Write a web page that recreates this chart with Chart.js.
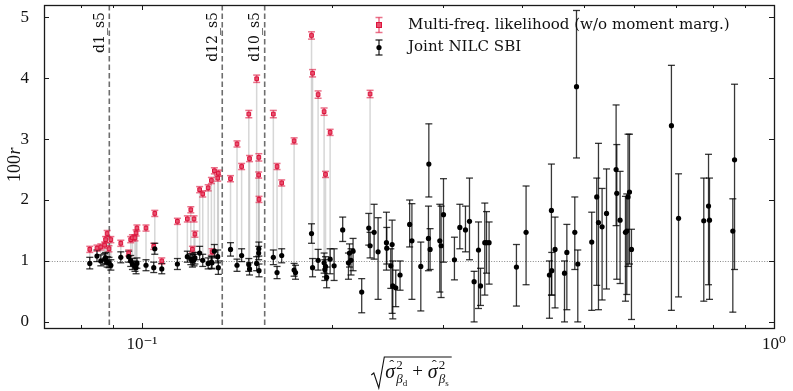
<!DOCTYPE html>
<html><head><meta charset="utf-8">
<script src="https://cdn.jsdelivr.net/npm/chart.js@4.4.1/dist/chart.umd.min.js"></script>
<style>html,body{margin:0;padding:0;background:#fff;}canvas{display:block}</style>
</head><body>
<canvas id="c" width="793" height="391"></canvas>
<script>
// ---------- data ----------
const blackX = [
 0.0827,0.0849,0.0861,0.0873,0.0876,0.0881,0.0887,0.0893,0.0926,0.0953,
 0.0960,0.0966,0.0975,0.0979,0.0982,0.1015,0.1044,0.1048,0.1075,0.1138,
 0.1180,0.1195,0.1202,0.1209,0.1213,0.1234,0.1248,0.1273,0.1288,0.1291,
 0.1302,0.1318,0.1321,0.1381,0.1414,0.1438,0.1476,0.1480,0.1519,0.1531,
 0.1530,0.1532,0.1614,0.1636,0.1664,0.1741,0.1750,0.1855,0.1862,0.1900,
 0.1942,0.1947,0.1952,0.1960,0.1985,0.2014,0.2078,0.2122,0.2130,0.2142,
 0.2158,0.2227,0.2285,0.2296,0.2330,0.2364,0.2437,0.2440,0.2476,0.2488,
 0.2494,0.2521,0.2561,0.2652,0.2674,0.2762,0.2840,0.2844,0.2857,0.2960,
 0.2974,0.3000,0.3122,0.3184,0.3250,0.3298,0.3354,0.3408,0.3433,0.3487,
 0.3509,0.3542,0.3913,0.4053,0.4413,0.4445,0.4450,0.4504,0.4662,0.4702,
 0.4840,0.4870,0.4893,0.5148,0.5243,0.5276,0.5346,0.5433,0.5626,0.5640,
 0.5708,0.5821,0.5849,0.5876,0.5907,0.5950,0.6882,0.7063,0.7743,0.7878,
 0.7906,0.8607,0.8661];
const blackY = [
 0.96,1.08,1.00,1.03,1.05,0.98,0.97,0.93,1.06,1.07,
 1.00,0.95,0.91,0.89,0.96,0.93,0.89,1.20,0.87,0.95,
 1.07,1.03,1.00,1.02,1.05,1.13,1.01,0.96,0.98,0.97,
 1.16,1.07,0.89,1.19,0.93,1.09,0.94,0.87,0.96,1.20,
 1.13,0.84,1.06,0.81,1.09,0.85,0.81,1.45,0.89,1.01,
 0.97,0.86,0.91,0.73,1.03,0.92,1.51,0.97,1.13,1.01,
 1.16,0.49,1.54,1.25,1.47,1.15,1.30,1.21,0.92,1.27,
 0.59,0.56,0.77,1.60,1.33,0.91,1.37,2.59,1.19,1.33,
 1.25,1.76,1.02,1.55,1.51,1.65,0.66,1.18,0.59,1.30,
 1.30,1.30,0.90,1.47,0.77,1.83,0.84,1.19,0.80,1.14,
 1.47,3.86,0.95,1.31,2.05,1.63,1.56,1.78,2.50,2.11,
 1.67,1.47,1.49,2.05,2.13,1.19,3.22,1.70,1.66,1.90,
 1.67,1.49,2.66];
const blackLo = [
 0.87,0.99,0.92,0.94,0.96,0.90,0.89,0.85,0.97,0.98,
 0.91,0.86,0.83,0.79,0.88,0.84,0.81,1.11,0.79,0.86,
 0.98,0.94,0.90,0.92,0.95,1.02,0.91,0.87,0.88,0.87,
 1.05,0.97,0.78,1.08,0.83,0.99,0.83,0.77,0.84,1.08,
 1.02,0.74,0.94,0.71,0.97,0.75,0.70,1.29,0.74,0.85,
 0.80,0.68,0.74,0.56,0.79,0.68,1.32,0.70,0.90,0.77,
 0.84,0.15,1.26,1.05,1.03,0.37,0.85,0.95,0.55,0.14,
 0.05,0.25,0.52,1.23,0.37,0.18,0.84,2.05,0.86,0.49,
 0.40,0.98,0.69,1.20,1.15,1.02,0.00,0.22,0.27,0.44,
 0.80,0.62,0.26,0.61,0.06,0.44,0.44,0.23,0.00,0.20,
 0.86,2.69,0.00,0.19,0.60,0.20,0.36,0.54,1.58,0.70,
 0.63,0.34,0.45,0.91,0.95,0.04,0.19,0.41,0.34,0.61,
 0.37,0.16,0.86];
const blackHi = [
 1.06,1.18,1.10,1.12,1.14,1.07,1.06,1.02,1.15,1.16,
 1.09,1.04,1.00,0.99,1.05,1.02,0.98,1.29,0.96,1.04,
 1.16,1.12,1.10,1.11,1.14,1.24,1.11,1.05,1.08,1.07,
 1.27,1.18,1.00,1.30,1.03,1.20,1.04,0.97,1.07,1.31,
 1.24,0.95,1.18,0.91,1.20,0.96,0.93,1.61,1.04,1.19,
 1.13,1.02,1.07,0.90,1.20,1.20,1.72,1.13,1.28,1.20,
 1.37,0.71,1.78,1.47,1.93,1.71,1.80,1.55,1.20,1.67,
 1.00,0.85,1.00,2.00,1.94,1.31,1.90,3.25,1.53,1.93,
 1.90,2.35,1.39,1.93,1.90,2.36,0.83,1.64,0.88,1.95,
 1.81,1.64,1.27,2.23,1.00,2.59,1.14,1.72,1.00,1.60,
 2.05,5.11,1.18,1.80,2.36,2.93,2.19,2.51,3.56,2.91,
 2.47,2.06,2.10,3.08,3.08,1.52,4.21,2.43,2.36,2.75,
 2.36,2.02,3.90];
const redX = [
 0.0827,0.0849,0.0861,0.0873,0.0876,0.0881,0.0887,0.0893,0.0926,0.0953,
 0.0960,0.0966,0.0975,0.0979,0.0982,0.1015,0.1048,0.1044,0.1075,0.1138,
 0.1180,0.1195,0.1209,0.1213,0.1202,0.1234,0.1248,0.1273,0.1288,0.1291,
 0.1302,0.1318,0.1321,0.1381,0.1414,0.1438,0.1476,0.1480,0.1519,0.1531,
 0.1530,0.1532,0.1614,0.1636,0.1664,0.1741,0.1855,0.1862,0.1900,0.1942,
 0.1985,0.1952,0.2296];
const redY = [
 1.19,1.21,1.23,1.26,1.35,1.45,1.20,1.35,1.29,1.13,
 1.35,1.38,1.38,1.46,1.54,1.54,1.78,1.24,1.00,1.65,
 1.69,1.84,1.69,1.44,1.19,2.17,2.10,2.20,2.32,1.15,
 2.48,2.36,2.44,2.35,2.92,2.55,3.41,2.68,3.99,2.70,
 2.41,2.01,3.41,2.55,2.28,2.97,4.70,4.08,3.73,3.45,
 3.11,2.42,3.74];
const redErr = [
 0.05,0.05,0.05,0.05,0.05,0.05,0.05,0.05,0.05,0.05,
 0.05,0.05,0.05,0.05,0.05,0.05,0.05,0.05,0.05,0.05,
 0.05,0.05,0.05,0.05,0.05,0.05,0.05,0.05,0.05,0.05,
 0.05,0.05,0.05,0.05,0.05,0.05,0.06,0.05,0.06,0.06,
 0.05,0.05,0.06,0.05,0.05,0.05,0.06,0.06,0.06,0.06,
 0.05,0.05,0.06];
const xTickValues = [0.07,0.08,0.09,0.1,0.2,0.3,0.4,0.5,0.6,0.7,0.8,0.9,1];
const xTickText = {"0.1":"10\u207B\u00B9","1":"10\u2070"};
const yTickValues = [0,1,2,3,4,5];
const refLineY = 1;
const vLineX = [0.0888,0.134,0.1564];
const vLineText = ["d1_s5","d12_s5","d10_s5"];
const legendText = ["Multi-freq. likelihood (w/o moment marg.)","Joint NILC SBI"];
const yTitleMain = "100", yTitleVar = "r";

// ---------- drawing ----------
const SERIF = "'Liberation Serif','DejaVu Serif',serif";
const DSERIF = "'DejaVu Serif',serif";
const RED = '#dc143c';

function seg(ctx,x1,y1,x2,y2){ctx.beginPath();ctx.moveTo(x1,y1);ctx.lineTo(x2,y2);ctx.stroke();}
function errBar(ctx,x,yt,yb,cap){seg(ctx,x,yt,x,yb);seg(ctx,x-cap,yt,x+cap,yt);seg(ctx,x-cap,yb,x+cap,yb);}

const deco = {
  id:'deco',
  beforeDatasetsDraw(chart){
    const {ctx, chartArea:a, scales:{x,y}} = chart;
    ctx.save();
    ctx.beginPath(); ctx.rect(a.left,a.top,a.right-a.left,a.bottom-a.top); ctx.clip();
    // reference line
    const yr = Math.round(y.getPixelForValue(refLineY))+0.5;
    ctx.strokeStyle='#8a8a8a'; ctx.lineWidth=1; ctx.setLineDash([1,1.6]);
    seg(ctx,a.left,yr,a.right,yr);
    // vertical dashed lines + labels
    ctx.setLineDash([5.5,3]); ctx.strokeStyle='#6e6e6e'; ctx.lineWidth=1.6;
    vLineX.forEach((v,i)=>{
      const px = x.getPixelForValue(v);
      seg(ctx,px,a.top,px,a.bottom);
      ctx.save();
      ctx.translate(px-5.5, a.top+7);
      ctx.rotate(-Math.PI/2);
      ctx.fillStyle='#111'; ctx.font='14px '+DSERIF;
      ctx.textAlign='right'; ctx.textBaseline='alphabetic';
      ctx.fillText(vLineText[i],0,0);
      ctx.restore();
    });
    ctx.setLineDash([]);
    // connectors red -> black
    ctx.strokeStyle='rgba(175,175,175,0.5)'; ctx.lineWidth=1.5;
    redX.forEach((v,i)=>{
      const j = blackX.indexOf(v);
      if(j<0) return;
      const px = x.getPixelForValue(v);
      seg(ctx,px,y.getPixelForValue(redY[i]),px,y.getPixelForValue(blackY[j]));
    });
    // red error bars
    ctx.strokeStyle='rgba(220,20,60,0.6)'; ctx.lineWidth=1.5;
    redX.forEach((v,i)=>{
      const px = x.getPixelForValue(v);
      errBar(ctx,px,y.getPixelForValue(redY[i]+redErr[i]),y.getPixelForValue(redY[i]-redErr[i]),3.5);
    });
    // black error bars
    ctx.strokeStyle='rgba(0,0,0,0.78)'; ctx.lineWidth=1.3;
    blackX.forEach((v,i)=>{
      const px = x.getPixelForValue(v);
      errBar(ctx,px,y.getPixelForValue(blackHi[i]),y.getPixelForValue(blackLo[i]),3.5);
    });
    ctx.restore();
  },
  afterDraw(chart){
    const {ctx, chartArea:a, scales:{x,y}} = chart;
    ctx.save();
    // frame
    ctx.strokeStyle='#1a1a1a'; ctx.lineWidth=1.3;
    ctx.strokeRect(Math.round(a.left)+0.5,Math.round(a.top)+0.5,Math.round(a.right-a.left),Math.round(a.bottom-a.top));
    // ticks (inward)
    ctx.lineWidth=1;
    xTickValues.forEach(v=>{
      const px = Math.round(x.getPixelForValue(v))+0.5;
      if(px<=a.left+1||px>=a.right-1) return;
      const L = (v===0.1||v===1)?5:3;
      seg(ctx,px,a.bottom,px,a.bottom-L); seg(ctx,px,a.top,px,a.top+L);
    });
    yTickValues.forEach(v=>{
      const py = Math.round(y.getPixelForValue(v))+0.5;
      seg(ctx,a.left,py,a.left+5,py); seg(ctx,a.right,py,a.right-5,py);
    });
    // legend
    let fs = 14; ctx.font = fs+'px '+DSERIF;
    const w = ctx.measureText(legendText[0]).width;
    fs = Math.max(12,Math.min(16,fs*322/w));
    const lx = 379, tx = 408, r1 = 25, r2 = 47.5;
    ctx.strokeStyle='rgba(220,20,60,0.6)'; ctx.lineWidth=1.5;
    errBar(ctx,lx,r1-7.5,r1+7.5,3.5);
    ctx.fillStyle='#e8506e'; ctx.fillRect(lx-2.5,r1-2.5,5,5);
    ctx.strokeStyle=RED; ctx.lineWidth=1; ctx.strokeRect(lx-2.5,r1-2.5,5,5);
    ctx.strokeStyle='rgba(0,0,0,0.85)'; ctx.lineWidth=1.3;
    errBar(ctx,lx,r2-7.5,r2+7.5,3.5);
    ctx.fillStyle='#000'; ctx.beginPath(); ctx.arc(lx,r2,2.6,0,Math.PI*2); ctx.fill();
    ctx.fillStyle='#111'; ctx.font=fs+'px '+DSERIF; ctx.textAlign='left'; ctx.textBaseline='middle';
    ctx.fillText(legendText[0],tx,r1);
    ctx.fillText(legendText[1],tx,r2);
    // y title
    ctx.save();
    ctx.translate(15,165); ctx.rotate(-Math.PI/2);
    ctx.textBaseline='middle'; ctx.textAlign='left';
    ctx.font='18px '+SERIF; const w1=ctx.measureText(yTitleMain).width;
    ctx.font='italic 18px '+SERIF; const w2=ctx.measureText(yTitleVar).width;
    const sx=-(w1+w2)/2;
    ctx.font='18px '+SERIF; ctx.fillText(yTitleMain,sx,0);
    ctx.font='italic 18px '+SERIF; ctx.fillText(yTitleVar,sx+w1+0.5,0);
    ctx.restore();
    // x title: sqrt(sigma^2_beta_d + sigma^2_beta_s)
    drawXTitle(ctx,(a.left+a.right)/2+3,378);
    ctx.restore();
  }
};

function drawXTitle(ctx,cx,B){
  ctx.fillStyle='#111'; ctx.textBaseline='alphabetic'; ctx.textAlign='left';
  const fBig='italic 20px '+SERIF, fSup='13px '+SERIF, fSub='italic 13px '+SERIF, fSS='9px '+SERIF, fPlus='19px '+SERIF;
  function m(f,t){ctx.font=f;return ctx.measureText(t).width;}
  const wS=m(fBig,'\u03C3'), w2=m(fSup,'2'), wb=m(fSub,'\u03B2'), wd=m(fSS,'d'), ws=m(fSS,'s'), wp=m(fPlus,'+');
  const g1 = Math.max(w2, wb+wd), g2 = Math.max(w2, wb+ws);
  const W = wS+1+g1+5+wp+5+wS+1+g2;
  let x0 = cx - W/2 + 5;
  function term(x,sub,wsub){
    ctx.font=fBig; ctx.fillText('\u03C3',x,B);
    ctx.font='15px '+SERIF; ctx.textAlign='center'; ctx.fillText('\u02C6',x+wS/2+1.5,B-8); ctx.textAlign='left';
    ctx.font=fSup; ctx.fillText('2',x+wS+1,B-9);
    ctx.font=fSub; ctx.fillText('\u03B2',x+wS+1,B+5);
    ctx.font=fSS; ctx.fillText(sub,x+wS+1+wb,B+8);
    return x+wS+1+Math.max(w2,wb+wsub);
  }
  let xx = term(x0,'d',wd);
  ctx.font=fPlus; ctx.fillText('+',xx+5,B-1); xx += 5+wp+5;
  xx = term(xx,'s',ws);
  // radical sign
  ctx.strokeStyle='#111'; ctx.lineWidth=1.1;
  ctx.beginPath();
  ctx.moveTo(x0-14,B-3); ctx.lineTo(x0-11.5,B-5); ctx.lineTo(x0-6.5,B+10); ctx.lineTo(x0-1,B-21); ctx.lineTo(xx+3,B-21);
  ctx.stroke();
}

new Chart(document.getElementById('c'),{
  type:'scatter',
  data:{datasets:[
    {label:legendText[1], data:blackX.map((v,i)=>({x:v,y:blackY[i]})),
     pointRadius:2.6, pointHoverRadius:2.6, backgroundColor:'#000', borderColor:'#000', borderWidth:0},
    {label:legendText[0], data:redX.map((v,i)=>({x:v,y:redY[i]})),
     pointStyle:'rect', pointRadius:2.6, pointHoverRadius:2.6, backgroundColor:'#e8506e', borderColor:RED, borderWidth:1}
  ]},
  options:{
    responsive:false, animation:false, devicePixelRatio:1, events:[],
    layout:{padding:{left:0,right:19,top:5,bottom:0}},
    plugins:{legend:{display:false}, tooltip:{enabled:false}},
    scales:{
      x:{type:'logarithmic', min:0.07, max:1,
        grid:{display:false}, border:{display:false},
        afterBuildTicks(s){ s.ticks = xTickValues.map(v=>({value:v})); },
        afterFit(s){ s.height = 63; s.paddingLeft = 0; s.paddingRight = 0; },
        ticks:{autoSkip:false, maxRotation:0, minRotation:0, padding:-2, color:'#111',
          font:{family:SERIF, size:17},
          callback(v){ return xTickText[String(v)] || ''; }}},
      y:{type:'linear', min:-0.1, max:5.2,
        grid:{display:false}, border:{display:false},
        afterBuildTicks(s){ s.ticks = yTickValues.map(v=>({value:v})); },
        afterFit(s){ s.width = 44; s.paddingTop = 0; s.paddingBottom = 0; },
        ticks:{padding:7, color:'#111', font:{family:SERIF, size:17}, callback(v){return String(v);}}}
    }
  },
  plugins:[deco]
});
</script>
</body></html>
